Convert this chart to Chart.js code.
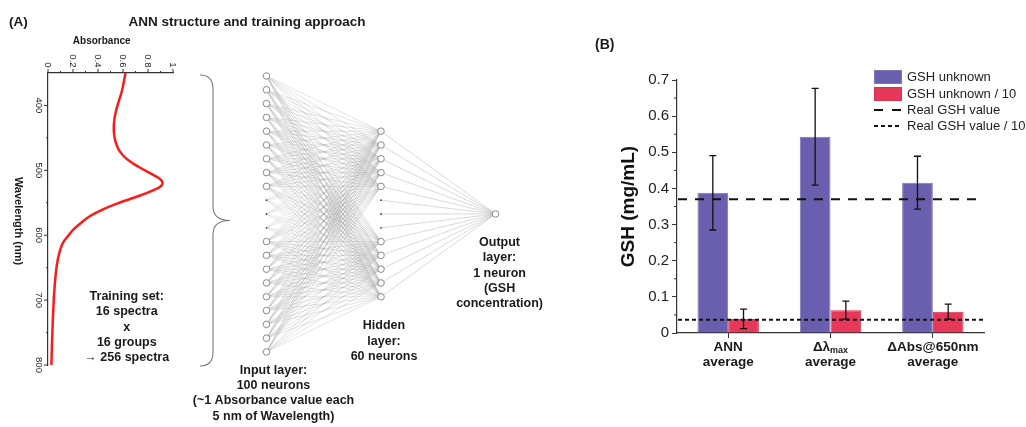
<!DOCTYPE html>
<html><head><meta charset="utf-8">
<script src="https://cdn.jsdelivr.net/npm/chart.js@4.4.1/dist/chart.umd.min.js"></script>
<style>
html,body{margin:0;padding:0;background:#fff;}
#wrap{position:relative;width:1026px;height:427px;overflow:hidden;background:#fff;}
canvas{position:absolute;top:0;}
</style></head><body>
<div id="wrap">
<canvas id="net" width="590" height="427" style="left:0px"></canvas>
<canvas id="spec" width="240" height="427" style="left:0px"></canvas>
<canvas id="bars" width="436" height="427" style="left:590px"></canvas>
</div>
<script>
// ---------- Panel A: spectrum ----------
const wavelengths = [350,360,370,380,390,400,410,420,430,440,450,460,470,480,490,500,510,515,520,525,530,540,550,560,570,580,590,600,610,620,630,640,650,660,670,680,690,700,720,740,760,780,800];
const absorbance  = [0.620,0.610,0.600,0.588,0.572,0.556,0.542,0.532,0.527,0.527,0.533,0.547,0.572,0.615,0.685,0.775,0.870,0.905,0.916,0.900,0.850,0.720,0.570,0.440,0.340,0.270,0.210,0.165,0.125,0.102,0.087,0.076,0.068,0.062,0.057,0.053,0.049,0.046,0.041,0.037,0.033,0.030,0.027];
const absMajorTicks = [0, 0.2, 0.4, 0.6, 0.8, 1];
const absTickLabels = ['0', '0.2', '0.4', '0.6', '0.8', '1'];
const absMinorTicks = [0.1, 0.3, 0.5, 0.7, 0.9];
const wlMajorTicks = [400, 500, 600, 700, 800];
const wlMinorTicks = [450, 550, 650, 750];
const trainingText = ['Training set:', '16 spectra', 'x', '16 groups', '\u2192 256 spectra'];

// ---------- Panel A: network ----------
const layerX = [0, 1, 2];
const inputSlots = [0,1,2,3,4,5,6,7,8,12,13,14,15,16,17,18,19,20];
const inputDotSlots = [9,10,11];
const hiddenSlots = [4,5,6,7,8,12,13,14,15,16];
const hiddenDotSlots = [9,10,11];
const outputSlots = [10];
const inputLabel = ['Input layer:', '100 neurons', '(~1 Absorbance value each', '5 nm of Wavelength)'];
const hiddenLabel = ['Hidden', 'layer:', '60 neurons'];
const outputLabel = ['Output', 'layer:', '1 neuron', '(GSH', 'concentration)'];

// ---------- Panel B: bars ----------
const categories = ['ANN average', '\u0394\u03bbmax average', '\u0394Abs@650nm average'];
const labelTop = ['ANN', '\u0394\u03bb', '\u0394Abs@650nm'];
const labelSub = ['', 'max', ''];
const labelBottom = ['average', 'average', 'average'];
const gshUnknown = [0.388, 0.543, 0.416];
const gshUnknownErr = [0.103, 0.134, 0.073];
const gshUnknown10 = [0.039, 0.063, 0.059];
const gshUnknown10Err = [0.027, 0.025, 0.021];
const realGSH = 0.37;
const realGSH10 = 0.037;
const legendLabels = ['GSH unknown', 'GSH unknown / 10', 'Real GSH value', 'Real GSH value / 10'];
const yMinorTicks = [0.05, 0.15, 0.25, 0.35, 0.45, 0.55, 0.65];

Chart.defaults.font.family = "'Liberation Sans', Arial, Helvetica, sans-serif";
Chart.defaults.color = '#222';

const BOLD = "bold ";
const FF = "'Liberation Sans', Arial, sans-serif";

// ======== Network chart ========
const nodePts = [];
inputSlots.forEach(s => nodePts.push({x: layerX[0], y: s}));
hiddenSlots.forEach(s => nodePts.push({x: layerX[1], y: s}));
outputSlots.forEach(s => nodePts.push({x: layerX[2], y: s}));
const dotPts = [];
inputDotSlots.forEach(s => dotPts.push({x: layerX[0], y: s}));
hiddenDotSlots.forEach(s => dotPts.push({x: layerX[1], y: s}));
function edges(fromX, fromSlots, toX, toSlots) {
  const out = [];
  fromSlots.forEach(a => toSlots.forEach(b => {
    out.push({x: fromX, y: a}, {x: toX, y: b}, {x: NaN, y: NaN});
  }));
  return out;
}
const edgesIH = edges(layerX[0], inputSlots, layerX[1], hiddenSlots);
const edgesDH = edges(layerX[0], inputDotSlots, layerX[1], hiddenSlots);
const edgesHO = edges(layerX[1], hiddenSlots.concat(hiddenDotSlots), layerX[2], outputSlots);

const netText = {
  id: 'netText',
  afterDraw(chart) {
    const ctx = chart.ctx, xs = chart.scales.x, ys = chart.scales.y;
    ctx.save();
    ctx.fillStyle = '#1a1a1a';
    ctx.textBaseline = 'middle';
    ctx.font = BOLD + '13.5px ' + FF;
    ctx.textAlign = 'left';
    ctx.fillText('(A)', 9, 22);
    ctx.textAlign = 'center';
    ctx.fillText('ANN structure and training approach', 247, 22);
    ctx.font = BOLD + '12.5px ' + FF;
    const lh = 15.3;
    const drawBlock = (lines, cx, y0) => lines.forEach((t, i) => ctx.fillText(t, cx, y0 + i * lh));
    drawBlock(inputLabel, xs.getPixelForValue(layerX[0]) + 7, ys.getPixelForValue(inputSlots[inputSlots.length - 1]) + 18.3);
    drawBlock(hiddenLabel, xs.getPixelForValue(layerX[1]) + 3, ys.getPixelForValue(hiddenSlots[hiddenSlots.length - 1]) + 29);
    drawBlock(outputLabel, xs.getPixelForValue(layerX[2]) + 4, ys.getPixelForValue(outputSlots[0]) + 28.7);
    ctx.restore();
  }
};

new Chart(document.getElementById('net'), {
  type: 'scatter',
  data: {
    datasets: [
      {data: nodePts, order: 0, pointRadius: 3.3, borderColor: '#8a8a8a', backgroundColor: '#ffffff', pointBorderWidth: 1},
      {data: dotPts, order: 0, pointRadius: 0.9, borderColor: '#444', backgroundColor: '#444', pointBorderWidth: 0},
      {data: edgesIH, order: 2, showLine: true, pointRadius: 0, borderColor: 'rgba(135,135,135,0.45)', borderWidth: 0.5, spanGaps: false},
      {data: edgesDH, order: 2, showLine: true, pointRadius: 0, borderColor: 'rgba(170,170,170,0.3)', borderWidth: 0.5, spanGaps: false},
      {data: edgesHO, order: 2, showLine: true, pointRadius: 0, borderColor: 'rgba(150,150,150,0.6)', borderWidth: 0.6, spanGaps: false}
    ]
  },
  options: {
    responsive: false, animation: false, devicePixelRatio: 1,
    layout: {padding: 0},
    plugins: {legend: {display: false}, tooltip: {enabled: false}},
    scales: {
      x: {type: 'linear', display: false, min: -2.283, max: 2.781},
      y: {type: 'linear', display: false, min: -5.145, max: 25.075, reverse: true}
    }
  },
  plugins: [netText]
});

// ======== Spectrum chart ========
const specDeco = {
  id: 'specDeco',
  afterDraw(chart) {
    const ctx = chart.ctx, xs = chart.scales.x, ys = chart.scales.y, ca = chart.chartArea;
    ctx.save();
    ctx.strokeStyle = '#333';
    ctx.lineWidth = 1;
    const ln = (x1, y1, x2, y2) => { ctx.beginPath(); ctx.moveTo(x1, y1); ctx.lineTo(x2, y2); ctx.stroke(); };
    absMajorTicks.forEach(v => { const p = xs.getPixelForValue(v); ln(p, ca.top, p, ca.top - 4); });
    absMinorTicks.forEach(v => { const p = xs.getPixelForValue(v); ln(p, ca.top, p, ca.top - 2); });
    wlMajorTicks.forEach(v => { const p = ys.getPixelForValue(v); ln(ca.left, p, ca.left - 4, p); });
    wlMinorTicks.forEach(v => { const p = ys.getPixelForValue(v); ln(ca.left, p, ca.left - 2, p); });
    ctx.fillStyle = '#222';
    ctx.font = '9.5px ' + FF;
    ctx.textBaseline = 'middle';
    absMajorTicks.forEach((v, i) => {
      const p = xs.getPixelForValue(v);
      ctx.save(); ctx.translate(p, ca.top - 5.5); ctx.rotate(Math.PI / 2);
      ctx.textAlign = 'right'; ctx.fillText(absTickLabels[i], 0, 0); ctx.restore();
    });
    wlMajorTicks.forEach(v => {
      const p = ys.getPixelForValue(v);
      ctx.save(); ctx.translate(ca.left - 9.5, p); ctx.rotate(Math.PI / 2);
      ctx.textAlign = 'center'; ctx.fillText(String(v), 0, 0); ctx.restore();
    });
    ctx.fillStyle = '#1a1a1a';
    ctx.font = BOLD + '10px ' + FF;
    ctx.textAlign = 'center';
    ctx.fillText('Absorbance', xs.getPixelForValue(0.43), 41);
    ctx.save();
    ctx.translate(18, (ca.top + ca.bottom) / 2 + 2);
    ctx.rotate(Math.PI / 2);
    ctx.font = BOLD + '11px ' + FF;
    ctx.fillText('Wavelength (nm)', 0, 0);
    ctx.restore();
    ctx.font = BOLD + '12.5px ' + FF;
    const tx = xs.getPixelForValue(0.63), ty = ys.getPixelForValue(695);
    trainingText.forEach((t, i) => ctx.fillText(t, tx, ty + i * 15.1));
    // brace
    const x0 = ca.right + 27, x1 = x0 + 13, xt = x0 + 30;
    const yT = ys.getPixelForValue(350) + 2, yB = ys.getPixelForValue(800) + 1, yM = (yT + yB) / 2;
    ctx.strokeStyle = '#7a7a7a';
    ctx.lineWidth = 1.1;
    ctx.beginPath();
    ctx.moveTo(x0, yT);
    ctx.quadraticCurveTo(x1, yT, x1, yT + 14);
    ctx.lineTo(x1, yM - 14);
    ctx.quadraticCurveTo(x1, yM, xt, yM);
    ctx.quadraticCurveTo(x1, yM, x1, yM + 14);
    ctx.lineTo(x1, yB - 14);
    ctx.quadraticCurveTo(x1, yB, x0, yB);
    ctx.stroke();
    ctx.restore();
  }
};

new Chart(document.getElementById('spec'), {
  type: 'scatter',
  data: {datasets: [{
    data: wavelengths.map((w, i) => ({x: absorbance[i], y: w})),
    showLine: true, borderColor: '#ff1a1a', borderWidth: 2.5, pointRadius: 0, tension: 0.4, fill: false
  }]},
  options: {
    responsive: false, animation: false, devicePixelRatio: 1,
    layout: {padding: {left: 48, top: 73, right: 67, bottom: 62}},
    plugins: {legend: {display: false}, tooltip: {enabled: false}},
    scales: {
      x: {type: 'linear', position: 'top', min: 0, max: 1,
          grid: {display: false, drawTicks: false}, ticks: {display: false},
          border: {display: true, color: '#333', width: 1.2}},
      y: {type: 'linear', position: 'left', min: 350, max: 800, reverse: true,
          grid: {display: false, drawTicks: false}, ticks: {display: false},
          border: {display: true, color: '#333', width: 1.2}}
    }
  },
  plugins: [specDeco]
});

// ======== Bar chart ========
const barColors = ['#6a5fae', '#e8385a'];
const barBorders = ['#7d76b6', '#d6304f'];
const dashLong = [9, 8];
const dashShort = [4, 3];
const barDeco = {
  id: 'barDeco',
  afterDatasetsDraw(chart) {
    const ctx = chart.ctx, ys = chart.scales.y, ca = chart.chartArea;
    ctx.save();
    // reference lines
    ctx.strokeStyle = '#111';
    ctx.lineWidth = 2;
    [[realGSH, dashLong], [realGSH10, dashShort]].forEach(([v, d]) => {
      const p = ys.getPixelForValue(v);
      ctx.setLineDash(d);
      ctx.beginPath(); ctx.moveTo(ca.left + 1, p); ctx.lineTo(ca.right, p); ctx.stroke();
    });
    ctx.setLineDash([]);
    // error bars
    const errs = [gshUnknownErr, gshUnknown10Err];
    const vals = [gshUnknown, gshUnknown10];
    ctx.lineWidth = 1.3;
    [0, 1].forEach(di => {
      const meta = chart.getDatasetMeta(di);
      meta.data.forEach((bar, i) => {
        const x = bar.x;
        const yT = ys.getPixelForValue(vals[di][i] + errs[di][i]);
        const yB = ys.getPixelForValue(vals[di][i] - errs[di][i]);
        ctx.beginPath();
        ctx.moveTo(x, yT); ctx.lineTo(x, yB);
        ctx.moveTo(x - 3.5, yT); ctx.lineTo(x + 3.5, yT);
        ctx.moveTo(x - 3.5, yB); ctx.lineTo(x + 3.5, yB);
        ctx.stroke();
      });
    });
    ctx.restore();
  },
  afterDraw(chart) {
    const ctx = chart.ctx, xs = chart.scales.x, ys = chart.scales.y, ca = chart.chartArea;
    ctx.save();
    // minor ticks
    ctx.strokeStyle = '#333'; ctx.lineWidth = 1;
    yMinorTicks.forEach(v => {
      const p = ys.getPixelForValue(v);
      ctx.beginPath(); ctx.moveTo(ca.left, p); ctx.lineTo(ca.left - 3, p); ctx.stroke();
    });
    // x labels
    ctx.fillStyle = '#1a1a1a';
    ctx.textBaseline = 'middle';
    labelTop.forEach((t, i) => {
      const cx = xs.getPixelForValue(i);
      ctx.font = BOLD + '13.5px ' + FF;
      if (labelSub[i]) {
        const w1 = ctx.measureText(t).width;
        ctx.font = BOLD + '9px ' + FF;
        const w2 = ctx.measureText(labelSub[i]).width;
        const sx = cx - (w1 + w2) / 2;
        ctx.textAlign = 'left';
        ctx.font = BOLD + '13.5px ' + FF;
        ctx.fillText(t, sx, 347);
        ctx.font = BOLD + '9px ' + FF;
        ctx.fillText(labelSub[i], sx + w1, 351);
      } else {
        ctx.textAlign = 'center';
        ctx.fillText(t, cx, 347);
      }
      ctx.textAlign = 'center';
      ctx.font = BOLD + '13.5px ' + FF;
      ctx.fillText(labelBottom[i], cx, 362);
    });
    // panel letter
    ctx.textAlign = 'left';
    ctx.font = BOLD + '14px ' + FF;
    ctx.fillText('(B)', 5, 45);
    // legend
    const lx = 284, lw = 28, tx = 317;
    const rows = [77, 94, 110, 126];
    ctx.font = '13px ' + FF;
    [0, 1].forEach(k => {
      ctx.fillStyle = barColors[k]; ctx.fillRect(lx, rows[k] - 7, lw, 14);
      ctx.strokeStyle = barBorders[k]; ctx.lineWidth = 1; ctx.strokeRect(lx + 0.5, rows[k] - 6.5, lw - 1, 13);
    });
    ctx.strokeStyle = '#111'; ctx.lineWidth = 2;
    ctx.setLineDash([9, 9]);
    ctx.beginPath(); ctx.moveTo(lx, rows[2]); ctx.lineTo(lx + lw, rows[2]); ctx.stroke();
    ctx.setLineDash(dashShort);
    ctx.beginPath(); ctx.moveTo(lx, rows[3]); ctx.lineTo(lx + lw, rows[3]); ctx.stroke();
    ctx.setLineDash([]);
    ctx.fillStyle = '#222';
    legendLabels.forEach((n, i) => ctx.fillText(n, tx, rows[i]));
    ctx.restore();
  }
};

new Chart(document.getElementById('bars'), {
  type: 'bar',
  data: {
    labels: categories,
    datasets: [
      {label: legendLabels[0], data: gshUnknown, backgroundColor: barColors[0], borderColor: barBorders[0], borderWidth: 1},
      {label: legendLabels[1], data: gshUnknown10, backgroundColor: barColors[1], borderColor: barBorders[1], borderWidth: 1}
    ]
  },
  options: {
    responsive: false, animation: false, devicePixelRatio: 1,
    layout: {padding: {left: 27, top: 80, right: 42, bottom: 89}},
    datasets: {bar: {categoryPercentage: 0.6, barPercentage: 1.0}},
    plugins: {legend: {display: false}, tooltip: {enabled: false}},
    scales: {
      x: {type: 'category', offset: true,
          grid: {display: true, drawOnChartArea: false, offset: false, tickLength: 5, color: '#333', tickColor: '#333'},
          ticks: {display: false},
          border: {display: true, color: '#333', width: 1.2}},
      y: {type: 'linear', min: 0, max: 0.7,
          afterFit: s => { s.width = 60; },
          ticks: {stepSize: 0.1, padding: 3, color: '#222', font: {size: 15},
                  callback: v => (Math.abs(v) < 1e-9 ? '0' : v.toFixed(1))},
          grid: {display: true, drawOnChartArea: false, tickLength: 5, color: '#333', tickColor: '#333'},
          border: {display: true, color: '#333', width: 1.2},
          title: {display: true, text: 'GSH (mg/mL)', color: '#111', font: {size: 19, weight: 'bold'}, padding: {top: 0, bottom: 4}}}
    }
  },
  plugins: [barDeco]
});
</script>
</body></html>
